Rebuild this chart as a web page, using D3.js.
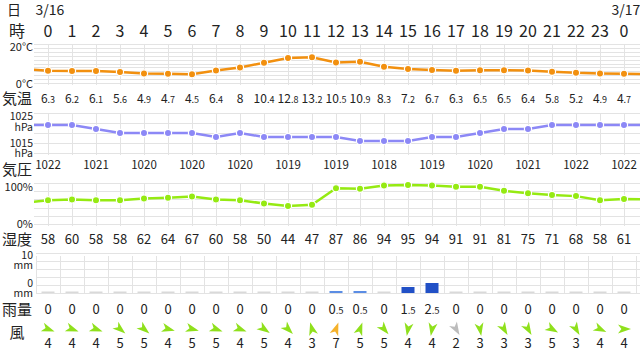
<!DOCTYPE html>
<html>
<head>
<meta charset="utf-8">
<title>天気</title>
<script src="https://d3js.org/d3.v7.min.js"></script>
<style>
body { margin: 0; background: #fff; }
svg { display: block; font-family: "Noto Sans CJK JP", "Noto Sans", sans-serif; }
.grid { stroke: #e3e3e3; stroke-width: 1; shape-rendering: crispEdges; }
.lbl { fill: #222; }
</style>
</head>
<body>
<svg id="chart" width="640" height="354"></svg>
<script>
// ---- data ----
const hourLabels = ["0","1","2","3","4","5","6","7","8","9","10","11","12","13","14","15","16","17","18","19","20","21","22","23","0"];
const dateLabels = [{col: 0, text: "3/16"}, {col: 24, text: "3/17"}];
const rowLabels = ["気温", "気圧", "湿度", "雨量", "風"];

const temps = [6.3,6.2,6.1,5.6,4.9,4.7,4.5,6.4,8,10.4,12.8,13.2,10.5,10.9,8.3,7.2,6.7,6.3,6.5,6.5,6.4,5.8,5.2,4.9,4.7];
const tempEdges = [7.1, 4.6];          // hour before / after, only visible at the edges
const pressure = [1022,1022,1021,1020,1020,1020,1020,1019,1020,1019,1019,1019,1019,1018,1018,1018,1019,1019,1020,1021,1021,1022,1022,1022,1022];
const pressureEdges = [1022, 1022];
const humidity = [58,60,58,58,62,64,67,60,58,50,44,47,87,86,94,95,94,91,91,81,75,71,68,58,61];
const humidityEdges = [52, 60];
const rain = [0,0,0,0,0,0,0,0,0,0,0,0,0.5,0.5,0,1.5,2.5,0,0,0,0,0,0,0,0];
const windSpeed = [4,4,4,5,5,4,5,5,4,5,4,3,7,5,5,4,4,2,3,3,3,5,3,4,4];
// direction the arrow points, degrees clockwise from up
const windDir = [110,110,110,130,130,105,105,110,110,125,135,-15,20,20,140,190,190,150,170,150,150,120,150,115,90];

const svg = d3.select("#chart");
const W = 640;
const plotLeft = 34;

const x = d3.scaleLinear().domain([0, 24]).range([48, 624]);

// clip for the line series
svg.append("defs").append("clipPath").attr("id", "plotClip")
   .append("rect").attr("x", plotLeft).attr("y", 0).attr("width", W - plotLeft).attr("height", 354);

// ---- header ----
svg.append("text").attr("class", "lbl").attr("x", 14).attr("y", 10).attr("dy", "0.35em")
   .attr("text-anchor", "middle").attr("font-size", 14).text("日");
svg.append("text").attr("class", "lbl").attr("x", 17).attr("y", 31).attr("dy", "0.35em")
   .attr("text-anchor", "middle").attr("font-size", 16).text("時");
svg.selectAll("text.date").data(dateLabels).join("text")
   .attr("class", "date lbl")
   .attr("x", d => x(d.col) + 2).attr("y", 10).attr("dy", "0.35em")
   .attr("text-anchor", "middle").attr("font-size", 14).text(d => d.text);
svg.selectAll("text.hour").data(hourLabels).join("text")
   .attr("class", "hour lbl")
   .attr("x", (d, i) => x(i)).attr("y", 31).attr("dy", "0.35em")
   .attr("text-anchor", "middle").attr("font-size", 16).text(d => d);

// row titles
const rowY = [99, 170, 240, 310, 333];
svg.selectAll("text.row").data(rowLabels).join("text")
   .attr("class", "row lbl")
   .attr("x", 17).attr("y", (d, i) => rowY[i]).attr("dy", "0.35em")
   .attr("text-anchor", "middle").attr("font-size", 15).text(d => d);

// value text with smaller decimals
function decimalText(sel, big, small) {
    sel.each(function(v) {
        const t = d3.select(this);
        const parts = String(v).split(".");
        t.text(parts[0]);
        if (parts.length > 1) t.append("tspan").attr("font-size", small).text("." + parts[1]);
    }).attr("font-size", big);
}

// axis label, optionally two lines (value + unit) in one text element
function axisLabel(g, a) {
    const t = g.append("text").attr("class", "lbl")
               .attr("x", 33).attr("y", a.y).attr("dy", "0.35em")
               .attr("text-anchor", "end").attr("font-size", a.s || 11);
    if (a.unit) {
        t.append("tspan").attr("x", 33).text(a.t);
        t.append("tspan").attr("x", 33).attr("dy", a.gap).text(a.unit);
    } else {
        t.text(a.t);
    }
}

// ---- generic line panel ----
function linePanel(opt) {
    const g = svg.append("g");
    const y = opt.y;
    const [top, bottom] = [y.range()[1], y.range()[0]];
    // horizontal grid
    g.selectAll("line.h").data(opt.gridVals).join("line")
     .attr("class", "grid")
     .attr("x1", plotLeft).attr("x2", W)
     .attr("y1", d => Math.round(y(d)) + 0.5).attr("y2", d => Math.round(y(d)) + 0.5);
    // vertical grid at each hour
    g.selectAll("line.v").data(hourLabels).join("line")
     .attr("class", "grid")
     .attr("x1", (d, i) => x(i) + 0.5).attr("x2", (d, i) => x(i) + 0.5)
     .attr("y1", top).attr("y2", bottom + 2);
    opt.axisText.forEach(a => axisLabel(g, a));
    const pts = [[-1, opt.edges[0]]].concat(opt.values.map((v, i) => [i, v]), [[25, opt.edges[1]]]);
    const line = d3.line().x(d => x(d[0])).y(d => y(d[1]));
    g.append("path").datum(pts)
     .attr("clip-path", "url(#plotClip)")
     .attr("fill", "none").attr("stroke", opt.color).attr("stroke-width", 2.5)
     .attr("d", line);
    g.selectAll("circle").data(opt.values).join("circle")
     .attr("cx", (d, i) => x(i)).attr("cy", d => y(d))
     .attr("r", 3.6).attr("fill", opt.color)
     .attr("stroke", "#fff").attr("stroke-width", 1.2);
    return g;
}

// temperature
const yT = d3.scaleLinear().domain([0, 20]).range([83, 44]);
linePanel({
    y: yT, values: temps, edges: tempEdges, color: "#f2900f",
    gridVals: d3.range(0, 21, 2),
    axisText: [{y: 47, t: "20°C"}, {y: 84, t: "0°C"}]
});
svg.append("g").selectAll("text").data(temps).join("text")
   .attr("class", "lbl").attr("x", (d, i) => x(i)).attr("y", 99).attr("dy", "0.35em")
   .attr("text-anchor", "middle")
   .call(decimalText, 12, 9);

// pressure
const yP = d3.scaleLinear().domain([1015, 1025]).range([153, 113]);
linePanel({
    y: yP, values: pressure, edges: pressureEdges, color: "#8c88f6",
    gridVals: d3.range(1015, 1026, 2.5),
    axisText: [{y: 116.5, t: "1025", unit: "hPa", gap: 10.5, s: 10.5},
               {y: 143, t: "1015", unit: "hPa", gap: 10, s: 10.5}]
});
svg.append("g").selectAll("text").data(pressure.map((v, i) => [i, v]).filter(d => d[0] % 2 === 0)).join("text")
   .attr("class", "lbl").attr("x", d => x(d[0])).attr("y", 165).attr("dy", "0.35em")
   .attr("text-anchor", "middle").attr("font-size", 11.5).text(d => d[1]);

// humidity
const yH = d3.scaleLinear().domain([0, 100]).range([224, 183]);
linePanel({
    y: yH, values: humidity, edges: humidityEdges, color: "#95ea12",
    gridVals: d3.range(0, 101, 20),
    axisText: [{y: 187, t: "100%"}, {y: 224, t: "0%"}]
});
svg.append("g").selectAll("text").data(humidity).join("text")
   .attr("class", "lbl").attr("x", (d, i) => x(i)).attr("y", 239).attr("dy", "0.35em")
   .attr("text-anchor", "middle").attr("font-size", 13).text(d => d);

// ---- rain ----
const yR = d3.scaleLinear().domain([0, 10]).range([293, 253]);
const rainG = svg.append("g");
rainG.selectAll("line.h").data(d3.range(0, 11, 2)).join("line")
     .attr("class", "grid")
     .attr("x1", 36).attr("x2", W)
     .attr("y1", d => Math.round(yR(d)) + 0.5).attr("y2", d => Math.round(yR(d)) + 0.5);
rainG.selectAll("line.v").data(d3.range(0, 26)).join("line")
     .attr("class", "grid")
     .attr("x1", d => x(d) - 12 + 0.5).attr("x2", d => x(d) - 12 + 0.5)
     .attr("y1", 256).attr("y2", 294);
[{y: 255.5, t: "10", unit: "mm", gap: 10, s: 10.5},
 {y: 283.5, t: "0", unit: "mm", gap: 9.5, s: 10.5}].forEach(a => axisLabel(rainG, a));
const rainColor = d => d === 0 ? "#d9d9d9" : (d < 1 ? "#5b8de4" : "#2150c6");
rainG.selectAll("rect").data(rain).join("rect")
     .attr("x", (d, i) => x(i) - 6.5).attr("width", 13)
     .attr("y", d => d === 0 ? yR(0) - 1.5 : yR(d))
     .attr("height", d => d === 0 ? 1.5 : yR(0) - yR(d))
     .attr("fill", d => rainColor(d));
svg.append("g").selectAll("text").data(rain).join("text")
   .attr("class", "lbl").attr("x", (d, i) => x(i)).attr("y", 309).attr("dy", "0.35em")
   .attr("text-anchor", "middle")
   .call(decimalText, 13, 9.5);

// ---- wind ----
const windColor = s => s >= 7 ? "#f5b22c" : (s <= 2 ? "#bcbcbc" : "#8fe01c");
const arrow = "M0,-7 L4.5,6 L0,2.6 L-4.5,6 Z";
svg.append("g").selectAll("path").data(windDir).join("path")
   .attr("d", arrow)
   .attr("transform", (d, i) => `translate(${x(i)},329) rotate(${d})`)
   .attr("fill", (d, i) => windColor(windSpeed[i]));
svg.append("g").selectAll("text").data(windSpeed).join("text")
   .attr("class", "lbl").attr("x", (d, i) => x(i)).attr("y", 343).attr("dy", "0.35em")
   .attr("text-anchor", "middle").attr("font-size", 13).text(d => d);
</script>
</body>
</html>
